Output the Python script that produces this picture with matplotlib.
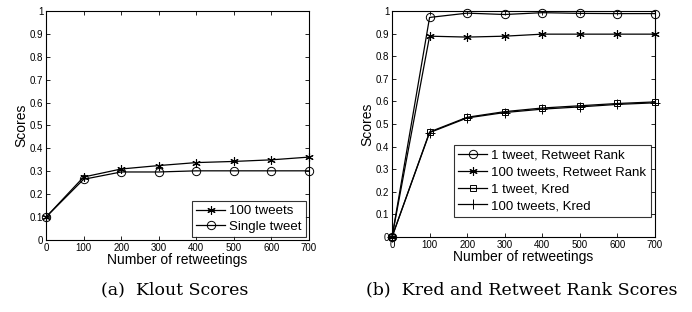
import matplotlib
matplotlib.use("Agg")
import matplotlib.pyplot as plt

x = [0, 100, 200, 300, 400, 500, 600, 700]

klout_100 = [0.10, 0.275, 0.31, 0.325, 0.338, 0.343, 0.350, 0.362]
klout_single = [0.10, 0.265, 0.297, 0.297, 0.302, 0.302, 0.302, 0.302]

rr_1 = [0.0, 0.972, 0.991, 0.985, 0.993, 0.990, 0.989, 0.989]
rr_100 = [0.0, 0.889, 0.885, 0.889, 0.898, 0.898, 0.898, 0.898]
kred_1 = [0.0, 0.465, 0.530, 0.555, 0.571, 0.581, 0.591, 0.598]
kred_100 = [0.0, 0.462, 0.527, 0.551, 0.566, 0.576, 0.587, 0.594]

yticks = [0, 0.1, 0.2, 0.3, 0.4, 0.5, 0.6, 0.7, 0.8, 0.9, 1]
ytick_labels = ["0", "0.1", "0.2", "0.3", "0.4", "0.5", "0.6", "0.7", "0.8", "0.9", "1"]
xticks = [0, 100, 200, 300, 400, 500, 600, 700]

plt.rcParams['font.family'] = ['Liberation Sans', 'DejaVu Sans']

fig = plt.figure(figsize=(6.92, 3.12), dpi=100)
ax1 = fig.add_axes([0.0665, 0.2308, 0.380, 0.734])
ax2 = fig.add_axes([0.5665, 0.2404, 0.380, 0.724])

def style(ax):
    ax.set_xlim(0, 700)
    ax.set_ylim(0, 1)
    ax.set_xticks(xticks)
    ax.set_yticks(yticks)
    ax.set_yticklabels(ytick_labels)
    ax.tick_params(direction='in', top=True, right=True, labelsize=7, length=3, width=0.6, pad=2, colors='black')
    for s in ax.spines.values():
        s.set_linewidth(0.8)
    ax.set_xlabel("Number of retweetings", fontsize=10, labelpad=0)
    ax.set_ylabel("Scores", fontsize=10, labelpad=1)

lw = 0.9
star = (6, 2, 0)
ax1.plot(x, klout_100, '-', color='black', marker=star, markersize=6, markeredgewidth=0.8, lw=lw, label='100 tweets', clip_on=False)
ax1.plot(x, klout_single, '-', color='black', marker='o', markersize=6, markerfacecolor='none', markeredgewidth=0.7, lw=lw, label='Single tweet', clip_on=False)
style(ax1)
leg1 = ax1.legend(loc='lower right', fontsize=9.5, frameon=True, fancybox=False, edgecolor='black',
                  borderaxespad=0.25, handlelength=2.2, handletextpad=0.3, borderpad=0.3, labelspacing=0.25)
leg1.get_frame().set_linewidth(0.8)

ax2.plot(x, rr_1, '-', color='black', marker='o', markersize=6, markerfacecolor='none', markeredgewidth=0.7, lw=lw, label='1 tweet, Retweet Rank', clip_on=False)
ax2.plot(x, rr_100, '-', color='black', marker=star, markersize=6, markeredgewidth=0.8, lw=lw, label='100 tweets, Retweet Rank', clip_on=False)
ax2.plot(x, kred_1, '-', color='black', marker='s', markersize=5, markerfacecolor='none', markeredgewidth=0.7, lw=lw, label='1 tweet, Kred', clip_on=False)
ax2.plot(x, kred_100, '-', color='black', marker='+', markersize=7, markeredgewidth=0.7, lw=lw, label='100 tweets, Kred', clip_on=False)
style(ax2)
leg2 = ax2.legend(loc='lower right', bbox_to_anchor=(0.985, 0.09), fontsize=9.5, frameon=True, fancybox=False, edgecolor='black',
                  borderaxespad=0.0, handlelength=2.2, handletextpad=0.3, borderpad=0.35, labelspacing=0.35)
leg2.get_frame().set_linewidth(0.8)

fig.text(0.2525, 0.07, "(a)  Klout Scores", ha='center', va='center', fontsize=12.5, family='DejaVu Serif')
fig.text(0.7535, 0.07, "(b)  Kred and Retweet Rank Scores", ha='center', va='center', fontsize=12.5, family='DejaVu Serif')

fig.savefig("out.png", dpi=100)
